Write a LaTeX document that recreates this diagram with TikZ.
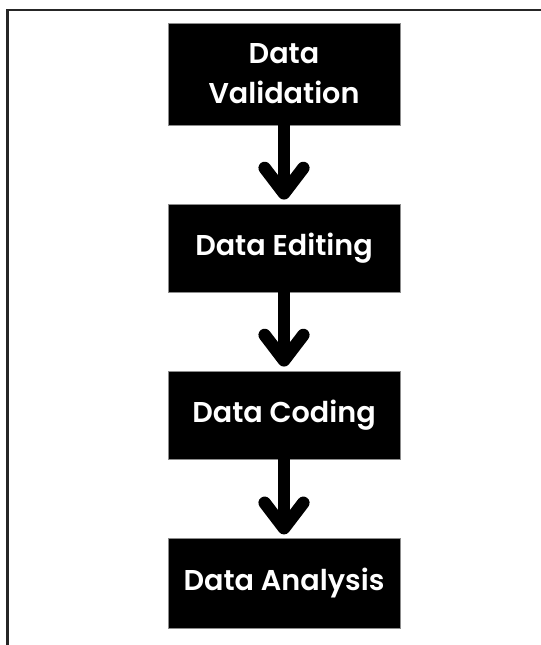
\documentclass[tikz,border=0pt]{standalone}
\usepackage{fontspec}
\newfontfamily\boxfont{Poppins SemiBold}
\usetikzlibrary{arrows.meta,positioning}

\begin{document}
\begin{tikzpicture}[x=0.75pt,y=-0.75pt,
    stage/.style={fill=black,draw=black!45,line width=0.6pt,text=white,
      minimum width=174pt,inner sep=0pt,align=center,
      font=\boxfont\fontsize{21.5}{30}\selectfont},
    flow/.style={line width=9.4pt,shorten >=3pt,
      -{Straight Barb[length=19pt,width=29pt,round]}}]
  \useasboundingbox (0,0) rectangle (541,645);
  % open frame, top and left side only
  \draw[line width=2.2pt,black!85] (541,10) -- (7.5,10) -- (7.5,645);

  % the four steps
  \node[stage,minimum height=76.5pt] (valid) at (284,74) {Data\\Validation};
  \node[stage,minimum height=66pt] (edit) at (284,248) {Data Editing};
  \node[stage,minimum height=66pt] (code) at (284,415) {Data Coding};
  \node[stage,minimum height=67pt] (anal) at (284,583.5) {Data Analysis};

  % connectors
  \draw[flow] (valid) -- (edit);
  \draw[flow] (edit) -- (code);
  \draw[flow] (code) -- (anal);
\end{tikzpicture}
\end{document}
